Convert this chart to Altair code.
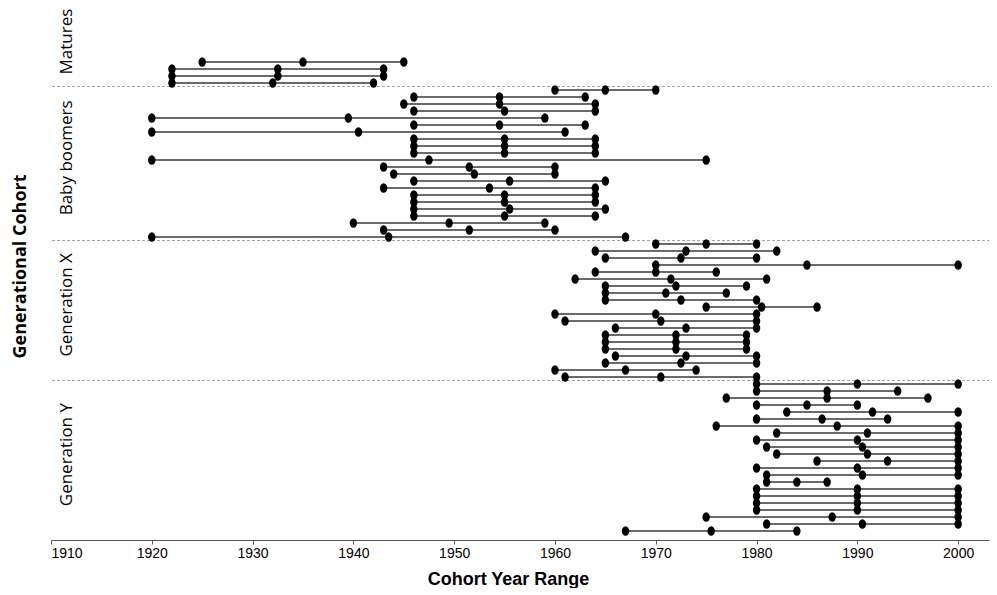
import altair as alt
import pandas as pd

# Each row: [start year, middle year, end year]
matures = [
    [1925, 1935, 1945],
    [1922, 1932.5, 1943],
    [1922, 1932.5, 1943],
    [1922, 1932, 1942],
]
baby_boomers = [
    [1960, 1965, 1970],
    [1946, 1954.5, 1963],
    [1945, 1954.5, 1964],
    [1946, 1955, 1964],
    [1920, 1939.5, 1959],
    [1946, 1954.5, 1963],
    [1920, 1940.5, 1961],
    [1946, 1955, 1964],
    [1946, 1955, 1964],
    [1946, 1955, 1964],
    [1920, 1947.5, 1975],
    [1943, 1951.5, 1960],
    [1944, 1952, 1960],
    [1946, 1955.5, 1965],
    [1943, 1953.5, 1964],
    [1946, 1955, 1964],
    [1946, 1955, 1964],
    [1946, 1955.5, 1965],
    [1946, 1955, 1964],
    [1940, 1949.5, 1959],
    [1943, 1951.5, 1960],
    [1920, 1943.5, 1967],
]
generation_x = [
    [1970, 1975, 1980],
    [1964, 1973, 1982],
    [1965, 1972.5, 1980],
    [1970, 1985, 2000],
    [1964, 1970, 1976],
    [1962, 1971.5, 1981],
    [1965, 1972, 1979],
    [1965, 1971, 1977],
    [1965, 1972.5, 1980],
    [1975, 1980.5, 1986],
    [1960, 1970, 1980],
    [1961, 1970.5, 1980],
    [1966, 1973, 1980],
    [1965, 1972, 1979],
    [1965, 1972, 1979],
    [1965, 1972, 1979],
    [1966, 1973, 1980],
    [1965, 1972.5, 1980],
    [1960, 1967, 1974],
    [1961, 1970.5, 1980],
]
generation_y = [
    [1980, 1990, 2000],
    [1980, 1987, 1994],
    [1977, 1987, 1997],
    [1980, 1985, 1990],
    [1983, 1991.5, 2000],
    [1980, 1986.5, 1993],
    [1976, 1988, 2000],
    [1982, 1991, 2000],
    [1980, 1990, 2000],
    [1981, 1990.5, 2000],
    [1982, 1991, 2000],
    [1986, 1993, 2000],
    [1980, 1990, 2000],
    [1981, 1990.5, 2000],
    [1981, 1984, 1987],
    [1980, 1990, 2000],
    [1980, 1990, 2000],
    [1980, 1990, 2000],
    [1980, 1990, 2000],
    [1975, 1987.5, 2000],
    [1981, 1990.5, 2000],
    [1967, 1975.5, 1984],
]

group_names = ["Matures", "Baby boomers", "Generation X", "Generation Y"]
group_rows = [matures, baby_boomers, generation_x, generation_y]
x_ticks = [1910, 1920, 1930, 1940, 1950, 1960, 1970, 1980, 1990, 2000]

W, H = 938, 532
Y_MIN, Y_MAX = -7.71, 68.29
X_MIN, X_MAX = 1910, 2003.06

recs, pts, divs, labels = [], [], [], []
i = 0
for gi, (name, rows) in enumerate(zip(group_names, group_rows)):
    first = i
    for s, m, e in rows:
        recs.append({"row": i, "group": name, "start": s, "end": e})
        for yr in (s, m, e):
            pts.append({"row": i, "year": yr})
        i += 1
    last = i - 1
    top = Y_MIN if gi == 0 else first - 0.5
    bot = Y_MAX if gi == len(group_names) - 1 else last + 0.5
    labels.append({"group": name, "pos": (top + bot) / 2 - 0.8})
    if gi < len(group_names) - 1:
        divs.append({"pos": last + 0.5})

seg_df = pd.DataFrame(recs)
pt_df = pd.DataFrame(pts)
div_df = pd.DataFrame(divs)
lab_df = pd.DataFrame(labels)

xs = alt.Scale(domain=[X_MIN, X_MAX], nice=False, zero=False)
ys = alt.Scale(domain=[Y_MIN, Y_MAX], reverse=True, nice=False, zero=False)

yaxis = alt.Axis(title="Generational Cohort", labels=False, ticks=False,
                 domain=False, grid=False, titleFont="Open Sans",
                 titleFontWeight="bold", titleFontSize=18, titleColor="black",
                 titlePadding=22, titleY=H / 2 - 8)
xaxis = alt.Axis(values=x_ticks, format="d", title="Cohort Year Range",
                 grid=False, domainColor="#555555", tickColor="#555555",
                 tickSize=4, labelFont="Liberation Sans", labelFontSize=14,
                 labelColor="black", labelPadding=2, titleFont="Liberation Sans",
                 titleFontSize=18, titleFontWeight="bold", titleColor="black",
                 titlePadding=10, titleX=457)

dividers = alt.Chart(div_df).mark_rule(
    color="#888888", strokeDash=[3, 2], strokeWidth=0.8
).encode(
    y=alt.Y("pos:Q", scale=ys, axis=yaxis),
    x=alt.value(1), x2=alt.value(W),
)

segments = alt.Chart(seg_df).mark_rule(color="#383838", strokeWidth=1.6).encode(
    x=alt.X("start:Q", scale=xs, axis=xaxis),
    x2="end:Q",
    y=alt.Y("row:Q", scale=ys),
)

ellipse = "M-0.78,0A0.78,1 0 1,0 0.78,0A0.78,1 0 1,0 -0.78,0Z"
points = alt.Chart(pt_df).mark_point(
    shape=ellipse, filled=True, color="black", opacity=1, size=92
).encode(
    x=alt.X("year:Q", scale=xs),
    y=alt.Y("row:Q", scale=ys),
)

group_text = alt.Chart(lab_df).mark_text(
    angle=270, font="Open Sans", fontSize=17, color="black",
    align="center", baseline="middle"
).encode(
    x=alt.value(16),
    y=alt.Y("pos:Q", scale=ys),
    text="group:N",
)

chart = alt.layer(dividers, segments, points, group_text).properties(
    width=W, height=H,
    autosize=alt.AutoSizeParams(type="none"),
    padding={"left": 43, "top": 0, "right": 0, "bottom": 48},
).configure_view(stroke=None)

chart.save("out.html", embed_options={"renderer": "svg", "actions": False})
